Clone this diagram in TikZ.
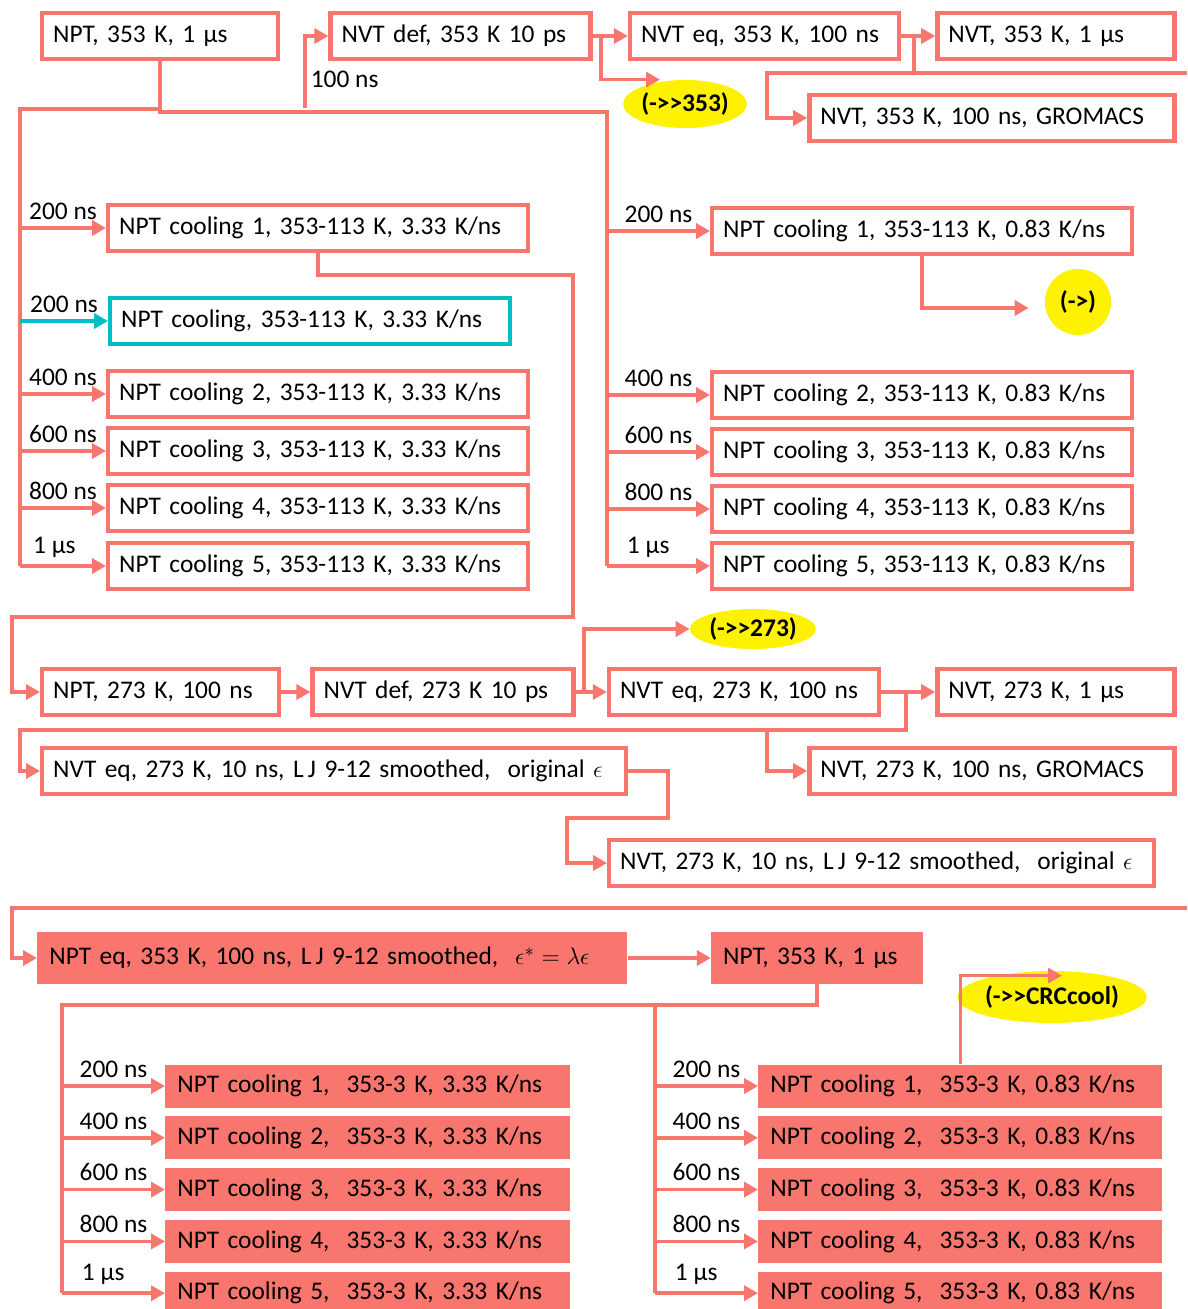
\documentclass[tikz,border=0pt]{standalone}
\usepackage{amsmath}
\usepackage{amssymb}
\usepackage{fontspec}
\setmainfont{Carlito}
\usetikzlibrary{shapes,shapes.geometric,arrows.meta,calc,positioning}
\definecolor{salm}{HTML}{F8766D}
\definecolor{cyn}{HTML}{00BFC4}
\tikzset{runbox/.style={draw=salm, line width=2.2pt, fill=white, anchor=west, align=left, inner xsep=5.5pt, inner ysep=0pt, minimum height=22.8pt}}
\tikzset{runfill/.style={fill=salm, anchor=west, align=left, inner xsep=6pt, inner ysep=0pt, minimum height=21.5pt}}
\tikzset{tagell/.style={ellipse, fill=yellow, inner sep=0pt, font=\fontsize{12.7}{15}\selectfont\bfseries}}
\tikzset{conn/.style={draw=salm, line width=1.8pt}}

\begin{document}
\begin{tikzpicture}[x=0.5pt, y=-0.5pt, >={Triangle[length=7pt,width=7.5pt]}, auto, font=\fontsize{12.7}{15}\selectfont]
\path[use as bounding box, fill=white] (0,0) rectangle (1187,1309);
\node[runbox, text width=107pt] (A1) at (40,36) {NPT, 353 K, 1 µs};
\node[runbox, text width=119pt, right=24pt of A1] (A2) {NVT def, 353 K 10 ps};
\node[runbox, text width=123.5pt, right=17.5pt of A2] (A3) {NVT eq, 353 K, 100 ns};
\node[runbox, text width=107.5pt, right=17pt of A3] (A4) {NVT, 353 K, 1 µs};
\node[runbox, text width=171.5pt, below=16pt of A4.south east, anchor=north east] (A5) {NVT, 353 K, 100 ns, GROMACS};
\node[tagell, minimum width=56pt, minimum height=24pt] (T353) at (685,104) {(->{}>353)};

\node[runbox, text width=199pt] (B1) at (106,228) {NPT cooling 1, 353-113 K, 3.33 K/ns};
\node[runbox, draw=cyn, text width=189pt, below=21.5pt of B1.south west, anchor=north west, xshift=1pt] (B0) {NPT cooling, 353-113 K, 3.33 K/ns};
\node[runbox, text width=199pt, below=11.5pt of B0.south west, anchor=north west, xshift=-1pt] (B2) {NPT cooling 2, 353-113 K, 3.33 K/ns};
\node[runbox, text width=199pt, below=3.5pt of B2] (B3) {NPT cooling 3, 353-113 K, 3.33 K/ns};
\node[runbox, text width=199pt, below=3.5pt of B3] (B4) {NPT cooling 4, 353-113 K, 3.33 K/ns};
\node[runbox, text width=199pt, below=4pt of B4] (B5) {NPT cooling 5, 353-113 K, 3.33 K/ns};

\node[runbox, text width=199pt] (R1) at (710,231) {NPT cooling 1, 353-113 K, 0.83 K/ns};
\node[runbox, text width=199pt, below=57pt of R1] (R2) {NPT cooling 2, 353-113 K, 0.83 K/ns};
\node[runbox, text width=199pt, below=3.5pt of R2] (R3) {NPT cooling 3, 353-113 K, 0.83 K/ns};
\node[runbox, text width=199pt, below=3.5pt of R3] (R4) {NPT cooling 4, 353-113 K, 0.83 K/ns};
\node[runbox, text width=199pt, below=3.5pt of R4] (R5) {NPT cooling 5, 353-113 K, 0.83 K/ns};
\node[tagell, circle, minimum size=33pt] (Tc) at (1078,302) {(->)};

\node[runbox, text width=107.5pt] (C1) at (40,692) {NPT, 273 K, 100 ns};
\node[runbox, text width=119.5pt, right=14.5pt of C1] (C2) {NVT def, 273 K 10 ps};
\node[runbox, text width=124pt, right=15.5pt of C2] (C3) {NVT eq, 273 K, 100 ns};
\node[runbox, text width=107.5pt, right=27pt of C3] (C4) {NVT, 273 K, 1 µs};
\node[runbox, text width=281pt, below=14.5pt of C1.south west, anchor=north west] (C5) {NVT eq, 273 K, 10 ns, L\,J 9-12 smoothed,~ original $\epsilon$};
\node[runbox, text width=171.5pt, below=14.5pt of C4.south east, anchor=north east] (C6) {NVT, 273 K, 100 ns, GROMACS};
\node[runbox, text width=261.5pt] (C7) at (607,863) {NVT, 273 K, 10 ns, L\,J 9-12 smoothed,~ original $\epsilon$};
\node[tagell, minimum width=63pt, minimum height=20pt] (T273) at (753,629) {(->{}>273)};

\node[runfill, text width=283pt, minimum height=26pt] (D1) at (37,958) {NPT eq, 353 K, 100 ns, L\,J 9-12 smoothed,~ $\epsilon^{*} = \lambda\epsilon$};
\node[runfill, text width=94pt, minimum height=26pt, right=41.5pt of D1] (D2) {NPT, 353 K, 1 µs};
\node[tagell, minimum width=79pt, minimum height=26pt] (Tcrc) at (1052,997) {(->{}>CRCcool)};

\node[runfill, text width=190.5pt] (E1) at (165,1086) {NPT cooling 1,~ 353-3 K, 3.33 K/ns};
\node[runfill, text width=190.5pt, below=4pt of E1] (E2) {NPT cooling 2,~ 353-3 K, 3.33 K/ns};
\node[runfill, text width=190.5pt, below=4pt of E2] (E3) {NPT cooling 3,~ 353-3 K, 3.33 K/ns};
\node[runfill, text width=190.5pt, below=4pt of E3] (E4) {NPT cooling 4,~ 353-3 K, 3.33 K/ns};
\node[runfill, text width=190.5pt, below=4pt of E4] (E5) {NPT cooling 5,~ 353-3 K, 3.33 K/ns};

\node[runfill, text width=190pt] (F1) at (758,1086) {NPT cooling 1,~ 353-3 K, 0.83 K/ns};
\node[runfill, text width=190pt, below=4pt of F1] (F2) {NPT cooling 2,~ 353-3 K, 0.83 K/ns};
\node[runfill, text width=190pt, below=4pt of F2] (F3) {NPT cooling 3,~ 353-3 K, 0.83 K/ns};
\node[runfill, text width=190pt, below=4pt of F3] (F4) {NPT cooling 4,~ 353-3 K, 0.83 K/ns};
\node[runfill, text width=190pt, below=4pt of F4] (F5) {NPT cooling 5,~ 353-3 K, 0.83 K/ns};

\coordinate (lbus) at (20,109);
\coordinate (rbus) at (607,112);
\coordinate (fork) at (305,108);
\coordinate (s353) at (767,73);
\coordinate (o353) at (1187,73);
\draw[conn] (A1.south) |- (lbus) -- (lbus |- B5.west);
\draw[conn] (A1.south) |- (rbus) -- (rbus |- R5.west);
\draw[conn,->] (fork) |- node[pos=0.2, right, inner sep=2pt] {100 ns} (A2.west);
\draw[conn,->] (A2) -- (A3);
\draw[conn,->] ([xshift=4pt]A2.east) |- ([xshift=-12.5pt]T353.north);
\draw[conn,->] (A3) -- (A4);
\draw[conn] ([xshift=6.5pt]A3.east) |- (o353);
\draw[conn,->] ([xshift=6.5pt]A3.east) |- (s353) |- (A5.west);

\path[->, every edge/.append style={conn}] (lbus |- B1.west) edge node {200 ns} (B1)
  (lbus |- B0.west) edge[draw=cyn] node {200 ns} (B0)
  (lbus |- B2.west) edge node {400 ns} (B2)
  (lbus |- B3.west) edge node {600 ns} (B3)
  (lbus |- B4.west) edge node {800 ns} (B4)
  (lbus |- B5.west) edge node[pos=0.4] {1 µs} (B5)
  (rbus |- R1.west) edge node {200 ns} (R1)
  (rbus |- R2.west) edge node {400 ns} (R2)
  (rbus |- R3.west) edge node {600 ns} (R3)
  (rbus |- R4.west) edge node {800 ns} (R4)
  (rbus |- R5.west) edge node[pos=0.4] {1 µs} (R5);
\draw[conn,->] (R1.south) |- ([xshift=-8pt,yshift=-3pt]Tc.west);

\coordinate (k1) at (573,275);
\coordinate (k2) at (12,617);
\draw[conn,->] (B1.south) |- (k1) |- (k2) |- (C1.west);
\draw[conn,->] (C1) -- (C2);
\draw[conn,->] (C2) -- (C3);
\draw[conn,->] ([xshift=4pt]C2.east) |- (T273.west);
\coordinate (s273) at (767,730);
\coordinate (l273) at (20,730);
\draw[conn,->] (C3) -- (C4);
\draw[conn,->] ([xshift=12.5pt]C3.east) |- (l273) |- (C5.west);
\draw[conn,->] (s273) |- (C6.west);
\coordinate (k3) at (668,818);
\coordinate (k4) at (567,818);
\draw[conn,->] (C5.east) -| (k3) -- (k4) |- (C7.west);

\coordinate (in3) at (1187,908);
\coordinate (k5) at (12,908);
\draw[conn,->] (in3) -- (k5) |- (D1.west);
\draw[conn,->] (D1) -- (D2);
\coordinate (lbus3) at (62,1005);
\coordinate (rbus3) at (655,1005);
\draw[conn] (D2.south) |- (lbus3) -- (lbus3 |- E5.west);
\draw[conn] (rbus3) -- (rbus3 |- F5.west);
\path[->, every edge/.append style={conn}] (lbus3 |- E1.west) edge node {200 ns} (E1)
  (lbus3 |- E2.west) edge node {400 ns} (E2)
  (lbus3 |- E3.west) edge node {600 ns} (E3)
  (lbus3 |- E4.west) edge node {800 ns} (E4)
  (lbus3 |- E5.west) edge node[pos=0.4] {1 µs} (E5)
  (rbus3 |- F1.west) edge node {200 ns} (F1)
  (rbus3 |- F2.west) edge node {400 ns} (F2)
  (rbus3 |- F3.west) edge node {600 ns} (F3)
  (rbus3 |- F4.west) edge node {800 ns} (F4)
  (rbus3 |- F5.west) edge node[pos=0.4] {1 µs} (F5);
\draw[conn,->] (F1.north) |- ([xshift=5pt,yshift=-2.5pt]Tcrc.north);
\end{tikzpicture}
\end{document}
